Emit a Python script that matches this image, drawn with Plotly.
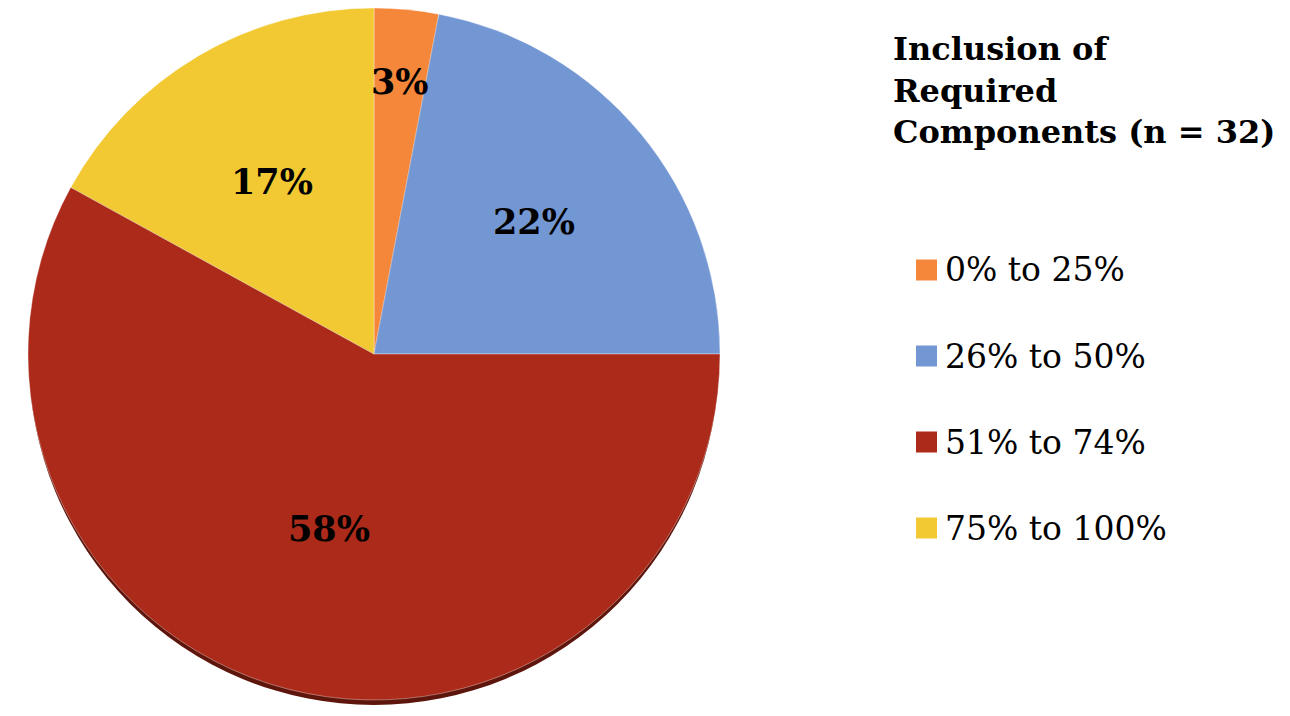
import math
import plotly.graph_objects as go

categories = ["0% to 25%", "26% to 50%", "51% to 74%", "75% to 100%"]
values = [3, 22, 58, 17]
colors = ["#F5873A", "#7397D3", "#AC2A19", "#F2C932"]
legend_title = "Inclusion of<br>Required<br>Components (n = 32)"

# style: radial position of each value label as fraction of radius
label_radius = [0.79, 0.6, 0.52, 0.58]

W, H = 1290, 716
cx, cy, r = 366, 346, 346  # pixel centre/radius of pie (figure coords)

fig = go.Figure()

# dark rim under the pie (3D look)
fig.add_shape(type="circle", xref="paper", yref="paper", layer="below",
              x0=(cx - r + 1) / W, x1=(cx + r - 1) / W,
              y0=1 - (cy + r + 5) / H, y1=1 - (cy - r + 5) / H,
              fillcolor="#5E150B", line=dict(width=0))

fig.add_trace(go.Pie(
    labels=categories,
    values=values,
    sort=False,
    direction="clockwise",
    rotation=0,
    marker=dict(colors=colors, line=dict(color="rgba(255,255,255,0.45)", width=0.8)),
    textinfo="none",
    domain=dict(x=[(cx - r) / W, (cx + r) / W],
                y=[max(0, (H - cy - r) / H), min(1, (H - cy + r) / H)]),
    showlegend=False,
    hoverinfo="label+percent",
))

# value labels placed at each slice's mid-angle
total = sum(values)
cum = 0
for v, f in zip(values, label_radius):
    mid = (cum + v / 2) / total * 2 * math.pi
    cum += v
    px = cx + f * r * math.sin(mid)
    py = cy - f * r * math.cos(mid)
    fig.add_annotation(x=px / W, y=1 - py / H, xref="paper", yref="paper",
                       xanchor="center", yanchor="middle",
                       text=f"{v}%", showarrow=False,
                       font=dict(family="DejaVu Serif", size=35, color="black", weight="bold"))

# Legend title
fig.add_annotation(
    x=883 / W, y=1 - 20 / H, xref="paper", yref="paper", xanchor="left", yanchor="top",
    text=legend_title, showarrow=False, align="left",
    font=dict(family="DejaVu Serif", size=32, color="black", weight="bold"),
)

# Legend items
y0 = 262
step = 86
for i, (lab, col) in enumerate(zip(categories, colors)):
    yc = y0 + i * step
    fig.add_shape(type="rect", xref="paper", yref="paper",
                  x0=908 / W, x1=929 / W, y0=1 - (yc + 10.5) / H, y1=1 - (yc - 10.5) / H,
                  fillcolor=col, line=dict(width=0))
    fig.add_annotation(
        x=935 / W, y=1 - yc / H, xref="paper", yref="paper", xanchor="left", yanchor="middle",
        text=lab, showarrow=False,
        font=dict(family="DejaVu Serif", size=33, color="black"),
    )

fig.update_layout(
    width=W, height=H,
    margin=dict(l=0, r=0, t=0, b=0),
    paper_bgcolor="white", plot_bgcolor="white",
)

fig.write_html("out.html")
